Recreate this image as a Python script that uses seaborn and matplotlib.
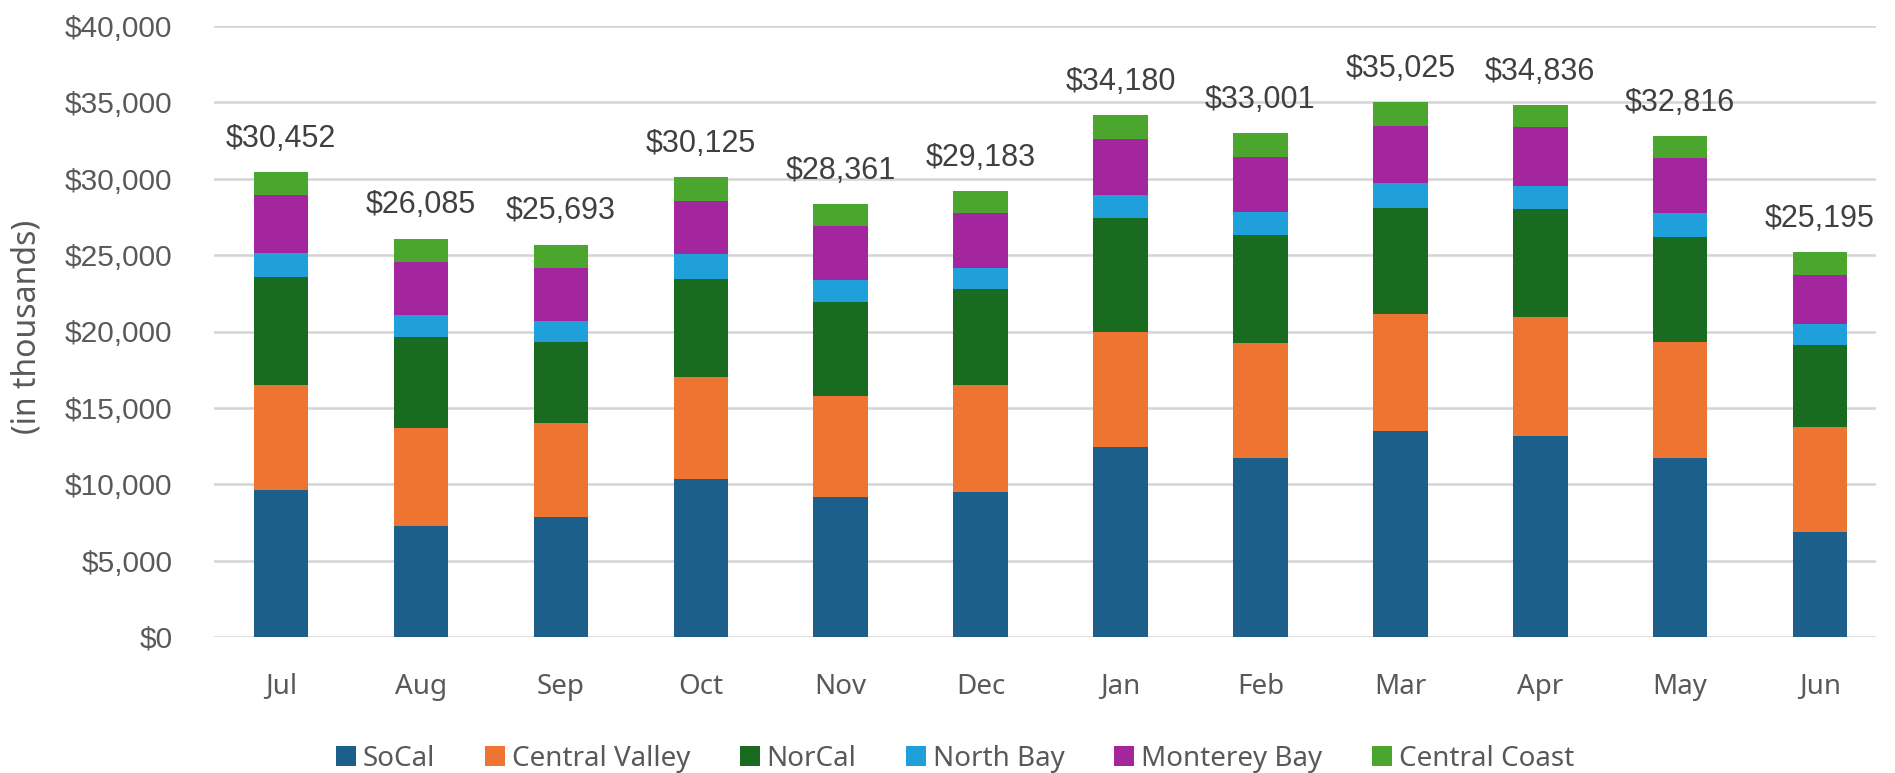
import matplotlib
matplotlib.use("Agg")
import matplotlib.pyplot as plt
from matplotlib.patches import Patch
from matplotlib.ticker import FuncFormatter
import numpy as np
import pandas as pd
import seaborn as sns

# Monthly revenue by region (in thousands of dollars)
months = ["Jul", "Aug", "Sep", "Oct", "Nov", "Dec", "Jan", "Feb", "Mar", "Apr", "May", "Jun"]
socal = [9620, 7270, 7860, 10340, 9170, 9490, 12440, 11720, 13490, 13160, 11720, 6870]
central_valley = [6880, 6410, 6150, 6680, 6610, 7010, 7530, 7530, 7660, 7790, 7590, 6880]
norcal = [7070, 5960, 5300, 6420, 6150, 6280, 7460, 7070, 6940, 7070, 6880, 5370]
north_bay = [1570, 1440, 1380, 1630, 1440, 1380, 1510, 1500, 1630, 1510, 1570, 1370]
monterey_bay = [3800, 3470, 3470, 3470, 3540, 3600, 3660, 3610, 3730, 3860, 3600, 3210]
central_coast = [1512, 1535, 1533, 1585, 1451, 1423, 1580, 1571, 1575, 1446, 1456, 1495]

regions = ["SoCal", "Central Valley", "NorCal", "North Bay", "Monterey Bay", "Central Coast"]
colors = ["#1c5f8a", "#ee7531", "#196b1f", "#1fa0da", "#a3269f", "#4aa62c"]

df = pd.DataFrame(
    {"month": months, "SoCal": socal, "Central Valley": central_valley, "NorCal": norcal,
     "North Bay": north_bay, "Monterey Bay": monterey_bay, "Central Coast": central_coast}
)
cum = df[regions].cumsum(axis=1)
totals = cum["Central Coast"]

sns.set_theme(style="white")
plt.rcParams["font.family"] = ["Liberation Sans", "DejaVu Sans"]
UI_FONT = ["Noto Sans", "DejaVu Sans"]

W, H = 1895, 773
fig = plt.figure(figsize=(W / 100, H / 100), dpi=100)
ax_left, ax_right, ax_top, ax_bottom = 214, 1876, 26, 637
ax = fig.add_axes([ax_left / W, 1 - ax_bottom / H, (ax_right - ax_left) / W, (ax_bottom - ax_top) / H])

# Stack by overlaying cumulative bars, tallest first
for region, color in reversed(list(zip(regions, colors))):
    sns.barplot(x=df["month"], y=cum[region], order=months, color=color, saturation=1,
                width=0.39, edgecolor="none", linewidth=0, ax=ax, zorder=3)

# Monthly total above each stack
for i, t in enumerate(totals):
    ax.annotate(f"${t:,.0f}", xy=(i, t), xytext=(0, 13), textcoords="offset points",
                ha="center", va="bottom", fontsize=22, color="#404040")

ax.set_ylim(0, 40000)
ax.set_xlim(-0.48, 11.40)
ax.set_yticks(np.arange(0, 40001, 5000))
ax.yaxis.set_major_formatter(FuncFormatter(lambda v, p: f"${v:,.0f}"))
ax.grid(axis="y", color="#d4d4d4", linewidth=1.8, zorder=0)
ax.grid(axis="x", visible=False)
for s in ax.spines.values():
    s.set_visible(False)
ax.set_xlabel("")
ax.set_ylabel("")
ax.tick_params(axis="y", length=0, pad=30, labelsize=21.5, labelcolor="#595959")
ax.tick_params(axis="x", length=0, pad=26, labelsize=20, labelcolor="#595959")
for lab in ax.get_xticklabels():
    lab.set_family(UI_FONT)

fig.text(27 / W, 1 - 327 / H, "(in thousands)", rotation=90, ha="center", va="center",
         fontsize=23, color="#595959", family=UI_FONT)

handles = [Patch(facecolor=c, edgecolor="none", label=r) for r, c in zip(regions, colors)]
leg = fig.legend(handles=handles, loc="center", bbox_to_anchor=(955 / W, 1 - 759 / H),
                 ncol=6, frameon=False, handlelength=0.72, handleheight=0.72, handletextpad=0.25,
                 columnspacing=1.78, borderpad=0, prop={"family": UI_FONT, "size": 20})
for t in leg.get_texts():
    t.set_color("#595959")

fig.savefig("out.png", dpi=100, facecolor="white")
